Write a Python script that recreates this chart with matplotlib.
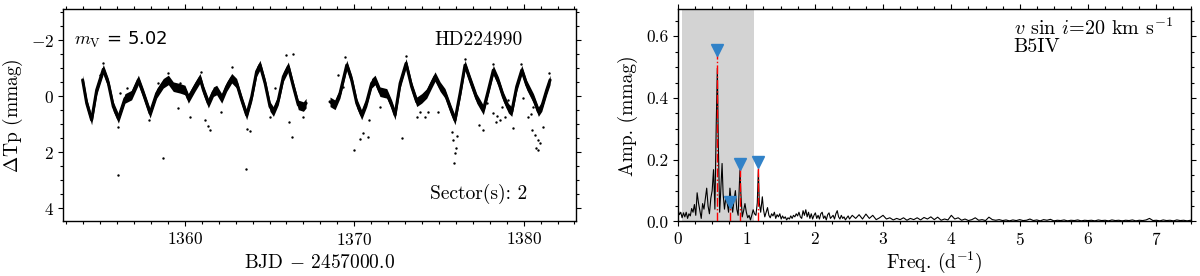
import numpy as np
import matplotlib
matplotlib.use("Agg")
import matplotlib.pyplot as plt
from matplotlib.ticker import MultipleLocator, FormatStrFormatter

plt.rcParams['font.family'] = 'serif'
plt.rcParams['font.serif'] = ['cmr10']
plt.rcParams['mathtext.fontset'] = 'cm'
plt.rcParams['axes.formatter.use_mathtext'] = True

# ---------------- light curve (band centre) ----------------
time_seg1 = [1353.97, 1354.21, 1354.50, 1354.80, 1355.19, 1355.49, 1355.78, 1356.08,
             1356.47, 1356.86, 1357.26, 1357.55, 1357.95, 1358.34, 1358.73, 1359.03,
             1359.32, 1359.72, 1360.01, 1360.21, 1360.60, 1360.90, 1361.10, 1361.39,
             1361.69, 1361.88, 1362.18, 1362.47, 1362.77, 1363.06, 1363.36, 1363.65,
             1363.95, 1364.24, 1364.44, 1364.74, 1365.03, 1365.23, 1365.52, 1365.82,
             1366.11, 1366.41, 1366.70, 1367.00, 1367.16]
mag_seg1 = [-0.58, 0.25, 0.85, -0.22, -0.96, -0.46, 0.37, 0.79,
            0.08, -0.04, -0.58, -0.10, 0.61, -0.10, -0.46, -0.58,
            -0.34, -0.28, -0.22, 0.08, -0.34, -0.64, -0.22, 0.25,
            -0.16, -0.22, 0.08, -0.34, -0.64, -0.46, 0.14, 0.67,
            0.02, -0.88, -1.11, -0.46, 0.37, 0.55, 0.14, -0.70,
            -1.05, -0.34, 0.31, 0.37, 0.25]
time_seg2 = [1368.57, 1368.87, 1369.16, 1369.56, 1369.85, 1370.15, 1370.44, 1370.74,
             1371.03, 1371.23, 1371.52, 1371.92, 1372.21, 1372.41, 1372.71, 1373.06,
             1373.39, 1373.69, 1373.98, 1374.28, 1374.57, 1374.77, 1375.07, 1375.36,
             1375.75, 1375.95, 1376.25, 1376.54, 1376.84, 1377.23, 1377.62, 1377.92,
             1378.21, 1378.51, 1378.80, 1379.10, 1379.30, 1379.59, 1379.89, 1380.18,
             1380.58, 1380.87, 1381.07, 1381.36, 1381.56]
mag_seg2 = [0.20, 0.31, -0.10, -1.11, -0.58, 0.25, 0.67, 0.20,
            -0.46, -0.58, -0.16, -0.10, 0.31, 0.67, -0.46, -1.17,
            -0.34, 0.20, 0.08, -0.10, -0.46, -0.70, -0.34, -0.10,
            0.55, 0.85, -0.10, -1.11, -0.58, 0.08, 0.49, -0.22,
            -0.93, -0.52, 0.02, 0.43, 0.55, -0.34, -0.93, -0.40,
            0.08, 0.55, 0.37, -0.22, -0.58]

# scattered outlying points
out_time = [1356.08, 1358.69, 1363.59, 1366.31, 1366.17, 1361.39, 1361.49, 1361.19,
            1360.31, 1359.62, 1363.85, 1363.65, 1357.87, 1356.08, 1365.03, 1365.97,
            1366.41, 1362.77, 1359.03, 1356.18, 1365.33, 1360.96, 1354.99, 1355.19,
            1358.44, 1362.12, 1359.72, 1367.00, 1356.57,
            1370.01, 1370.34, 1370.54, 1370.80, 1372.80, 1374.97, 1375.91, 1375.95,
            1375.99, 1375.85, 1376.05, 1375.75, 1377.62, 1377.39, 1378.37, 1378.41,
            1378.61, 1378.21, 1378.71, 1379.40, 1378.90, 1380.48, 1380.67, 1380.87,
            1380.73, 1380.97, 1381.13, 1380.28, 1380.42, 1380.87, 1369.46, 1373.06,
            1376.54, 1378.21, 1379.85, 1381.52, 1369.06, 1369.36, 1374.18, 1374.38,
            1373.69, 1371.52, 1370.89, 1377.82, 1379.10, 1379.98, 1380.58, 1373.88]
out_mag = [2.81, 2.22, 2.60, 1.44, 0.91, 1.06, 1.21, 0.85,
           0.73, 0.43, 1.23, 1.18, 0.85, 1.11, 0.75, -1.47,
           -1.51, -1.03, -0.82, -0.10, -0.28, -0.88, -0.76, -1.17,
           -0.48, 0.55, -0.46, 0.73, -0.28,
           1.92, 1.53, 1.32, 1.47, 1.48, 0.55, 2.40, 2.04,
           1.86, 1.56, 1.42, 1.27, 1.21, 1.03, 0.91, 0.71,
           0.85, 0.61, 0.37, 1.15, 0.73, 1.21, 1.38, 1.56,
           1.86, 1.68, 1.11, 0.75, 0.63, 1.92, -1.41, -1.43,
           -1.32, -1.15, -1.15, -0.82, -0.76, -0.34, 0.73, 0.55,
           0.73, 0.37, 0.85, 0.25, 0.14, 0.08, 0.37, 0.55]

# ---------------- amplitude spectrum ----------------
freq = [0.00, 0.02, 0.04, 0.06, 0.08, 0.10, 0.12, 0.14, 0.16, 0.18,
        0.20, 0.22, 0.24, 0.26, 0.28, 0.30, 0.32, 0.34, 0.36, 0.38,
        0.40, 0.42, 0.44, 0.46, 0.48, 0.50, 0.52, 0.54, 0.56, 0.576,
        0.59, 0.61, 0.63, 0.645, 0.66, 0.68, 0.70, 0.72, 0.74, 0.76,
        0.78, 0.80, 0.82, 0.84, 0.86, 0.88, 0.907, 0.92, 0.94, 0.96,
        0.98, 1.00, 1.02, 1.04, 1.06, 1.08, 1.10, 1.12, 1.14, 1.16,
        1.176, 1.19, 1.21, 1.234, 1.25, 1.27, 1.29, 1.31, 1.33, 1.35,
        1.37, 1.39, 1.41, 1.43, 1.45, 1.47, 1.49, 1.51, 1.53, 1.55,
        1.57, 1.59, 1.61, 1.63, 1.65, 1.67, 1.69, 1.71, 1.73, 1.75,
        1.77, 1.79, 1.81, 1.83, 1.85, 1.87, 1.89, 1.91, 1.93, 1.95,
        1.97, 1.99, 2.01, 2.03, 2.05, 2.07, 2.09, 2.11, 2.13, 2.15,
        2.17, 2.19, 2.21, 2.23, 2.25, 2.27, 2.29, 2.31, 2.33, 2.35,
        2.37, 2.39, 2.41, 2.43, 2.45, 2.47, 2.49, 2.51,
        2.55, 2.60, 2.65, 2.70, 2.75, 2.80, 2.85, 2.90, 2.95, 3.00,
        3.05, 3.10, 3.15, 3.20, 3.25, 3.30, 3.35, 3.40, 3.45, 3.50,
        3.55, 3.60, 3.65, 3.70, 3.75, 3.80, 3.85, 3.90, 3.95, 4.00,
        4.05, 4.10, 4.15, 4.20, 4.25, 4.30, 4.35, 4.40, 4.45, 4.50,
        4.55, 4.60, 4.65, 4.70, 4.75, 4.80, 4.85, 4.90, 4.95, 5.00,
        5.05, 5.10, 5.15, 5.20, 5.25, 5.30, 5.35, 5.40, 5.45, 5.50,
        5.55, 5.60, 5.65, 5.70, 5.75, 5.80, 5.85, 5.90, 5.95, 6.00,
        6.05, 6.10, 6.15, 6.20, 6.25, 6.30, 6.35, 6.40, 6.45, 6.50,
        6.55, 6.60, 6.65, 6.70, 6.75, 6.80, 6.85, 6.90, 6.95, 7.00,
        7.05, 7.10, 7.15, 7.20, 7.25, 7.30, 7.35, 7.40, 7.45, 7.50]
amp = [0.040, 0.022, 0.030, 0.012, 0.028, 0.015, 0.030, 0.010, 0.025, 0.018,
       0.042, 0.030, 0.055, 0.020, 0.093, 0.060, 0.035, 0.010, 0.058, 0.040,
       0.075, 0.108, 0.050, 0.025, 0.075, 0.100, 0.168, 0.040, 0.320, 0.497,
       0.250, 0.030, 0.120, 0.188, 0.090, 0.040, 0.078, 0.060, 0.030, 0.108,
       0.060, 0.030, 0.070, 0.100, 0.040, 0.020, 0.167, 0.090, 0.015, 0.035,
       0.058, 0.030, 0.012, 0.020, 0.005, 0.020, 0.038, 0.025, 0.020, 0.060,
       0.168, 0.060, 0.030, 0.080, 0.040, 0.015, 0.030, 0.045, 0.020, 0.012,
       0.025, 0.018, 0.030, 0.010, 0.022, 0.015, 0.025, 0.008, 0.018, 0.010,
       0.015, 0.005, 0.012, 0.008, 0.018, 0.010, 0.020, 0.015, 0.025, 0.018,
       0.030, 0.015, 0.010, 0.035, 0.020, 0.038, 0.015, 0.030, 0.010, 0.025,
       0.008, 0.020, 0.028, 0.010, 0.020, 0.008, 0.025, 0.030, 0.010, 0.018,
       0.005, 0.022, 0.028, 0.010, 0.015, 0.020, 0.008, 0.025, 0.035, 0.015,
       0.008, 0.020, 0.010, 0.015, 0.005, 0.012, 0.018, 0.008,
       0.020, 0.010, 0.022, 0.008, 0.024, 0.010, 0.020, 0.006, 0.012, 0.020,
       0.008, 0.012, 0.005, 0.010, 0.006, 0.012, 0.004, 0.010, 0.006, 0.012,
       0.005, 0.013, 0.008, 0.015, 0.006, 0.014, 0.004, 0.008, 0.005, 0.020,
       0.008, 0.012, 0.004, 0.008, 0.003, 0.006, 0.012, 0.004, 0.006, 0.003,
       0.014, 0.006, 0.004, 0.006, 0.003, 0.005, 0.002, 0.005, 0.003, 0.006,
       0.003, 0.004, 0.008, 0.003, 0.005, 0.002, 0.006, 0.004, 0.007, 0.002,
       0.004, 0.003, 0.005, 0.002, 0.004, 0.003, 0.005, 0.002, 0.004, 0.003,
       0.004, 0.002, 0.005, 0.003, 0.004, 0.002, 0.005, 0.003, 0.004, 0.002,
       0.004, 0.003, 0.005, 0.002, 0.004, 0.003, 0.005, 0.010, 0.003, 0.004,
       0.002, 0.005, 0.003, 0.004, 0.002, 0.005, 0.003, 0.004, 0.002, 0.004]

# extracted frequencies and marker heights
peak_freq = [0.576, 0.761, 0.907, 1.176]
peak_mark = [0.556, 0.064, 0.186, 0.194]

# shaded frequency range
shade_range = [0.054, 1.11]

# ---------------- figure ----------------
fig = plt.figure(figsize=(12, 2.76), dpi=100)
ax1 = fig.add_axes([0.0529, 0.1975, 0.4271, 0.7688])
ax2 = fig.add_axes([0.565, 0.1975, 0.4271, 0.7688])

band = 0.17
for t, m in [(time_seg1, mag_seg1), (time_seg2, mag_seg2)]:
    t = np.asarray(t); m = np.asarray(m)
    ax1.fill_between(t, m - band, m + band, color='black', lw=0, zorder=2)
    ax1.plot(t, m, color='black', lw=2.2, solid_joinstyle='round',
             solid_capstyle='round', zorder=2)
ax1.scatter(out_time, out_mag, s=3, color='black', lw=0, zorder=3)

ax1.set_xlim(1352.84, 1383.09)
ax1.set_ylim(4.47, -3.10)
ax1.xaxis.set_major_locator(MultipleLocator(10))
ax1.xaxis.set_minor_locator(MultipleLocator(1))
ax1.yaxis.set_major_locator(MultipleLocator(2))
ax1.yaxis.set_minor_locator(MultipleLocator(0.5))
ax1.set_xlabel(r'BJD $-$ 2457000.0', fontsize=14, labelpad=4)
ax1.set_ylabel(r'$\Delta$Tp (mmag)', fontsize=14, labelpad=4)
ax1.text(0.02, 0.855, r'$m_{\rm V}$ = 5.02', transform=ax1.transAxes,
         fontsize=13, family='DejaVu Sans', ha='left', va='center')
ax1.text(0.895, 0.855, 'HD224990', transform=ax1.transAxes,
         fontsize=14, ha='right', va='center')
ax1.text(0.905, 0.13, 'Sector(s): 2', transform=ax1.transAxes,
         fontsize=14, ha='right', va='center')

ax2.axvspan(shade_range[0], shade_range[1], color='#d3d3d3', lw=0, zorder=0)
ax2.plot(freq, amp, color='black', lw=0.8, zorder=2)
ax2.vlines(peak_freq, 0, peak_mark, colors='red', linestyles='dashdot', lw=1.0, zorder=3)
ax2.plot(peak_freq, peak_mark, 'v', color='#3182c8', ms=8, mec='#3182c8', zorder=4)

ax2.set_xlim(0, 7.5)
ax2.set_ylim(0, 0.6876)
ax2.xaxis.set_major_locator(MultipleLocator(1))
ax2.xaxis.set_minor_locator(MultipleLocator(0.25))
ax2.yaxis.set_major_locator(MultipleLocator(0.2))
ax2.yaxis.set_minor_locator(MultipleLocator(0.05))
ax2.yaxis.set_major_formatter(FormatStrFormatter('%.1f'))
ax2.set_xlabel(r'Freq. (d$^{-1}$)', fontsize=14, labelpad=1)
ax2.set_ylabel('Amp. (mmag)', fontsize=14, labelpad=6)
ax2.text(0.655, 0.91, r'$v$ sin $i$=20 km s$^{-1}$', transform=ax2.transAxes,
         fontsize=14.5, ha='left', va='center')
ax2.text(0.655, 0.82, 'B5IV', transform=ax2.transAxes,
         fontsize=14.5, ha='left', va='center')

for ax in (ax1, ax2):
    ax.tick_params(which='both', direction='out', top=True, right=True,
                   labelsize=12.5, width=0.8)
    ax.tick_params(which='major', length=3.5)
    ax.tick_params(which='minor', length=2.2)
    for s in ax.spines.values():
        s.set_linewidth(1.0)

fig.savefig('out.png', dpi=100)
